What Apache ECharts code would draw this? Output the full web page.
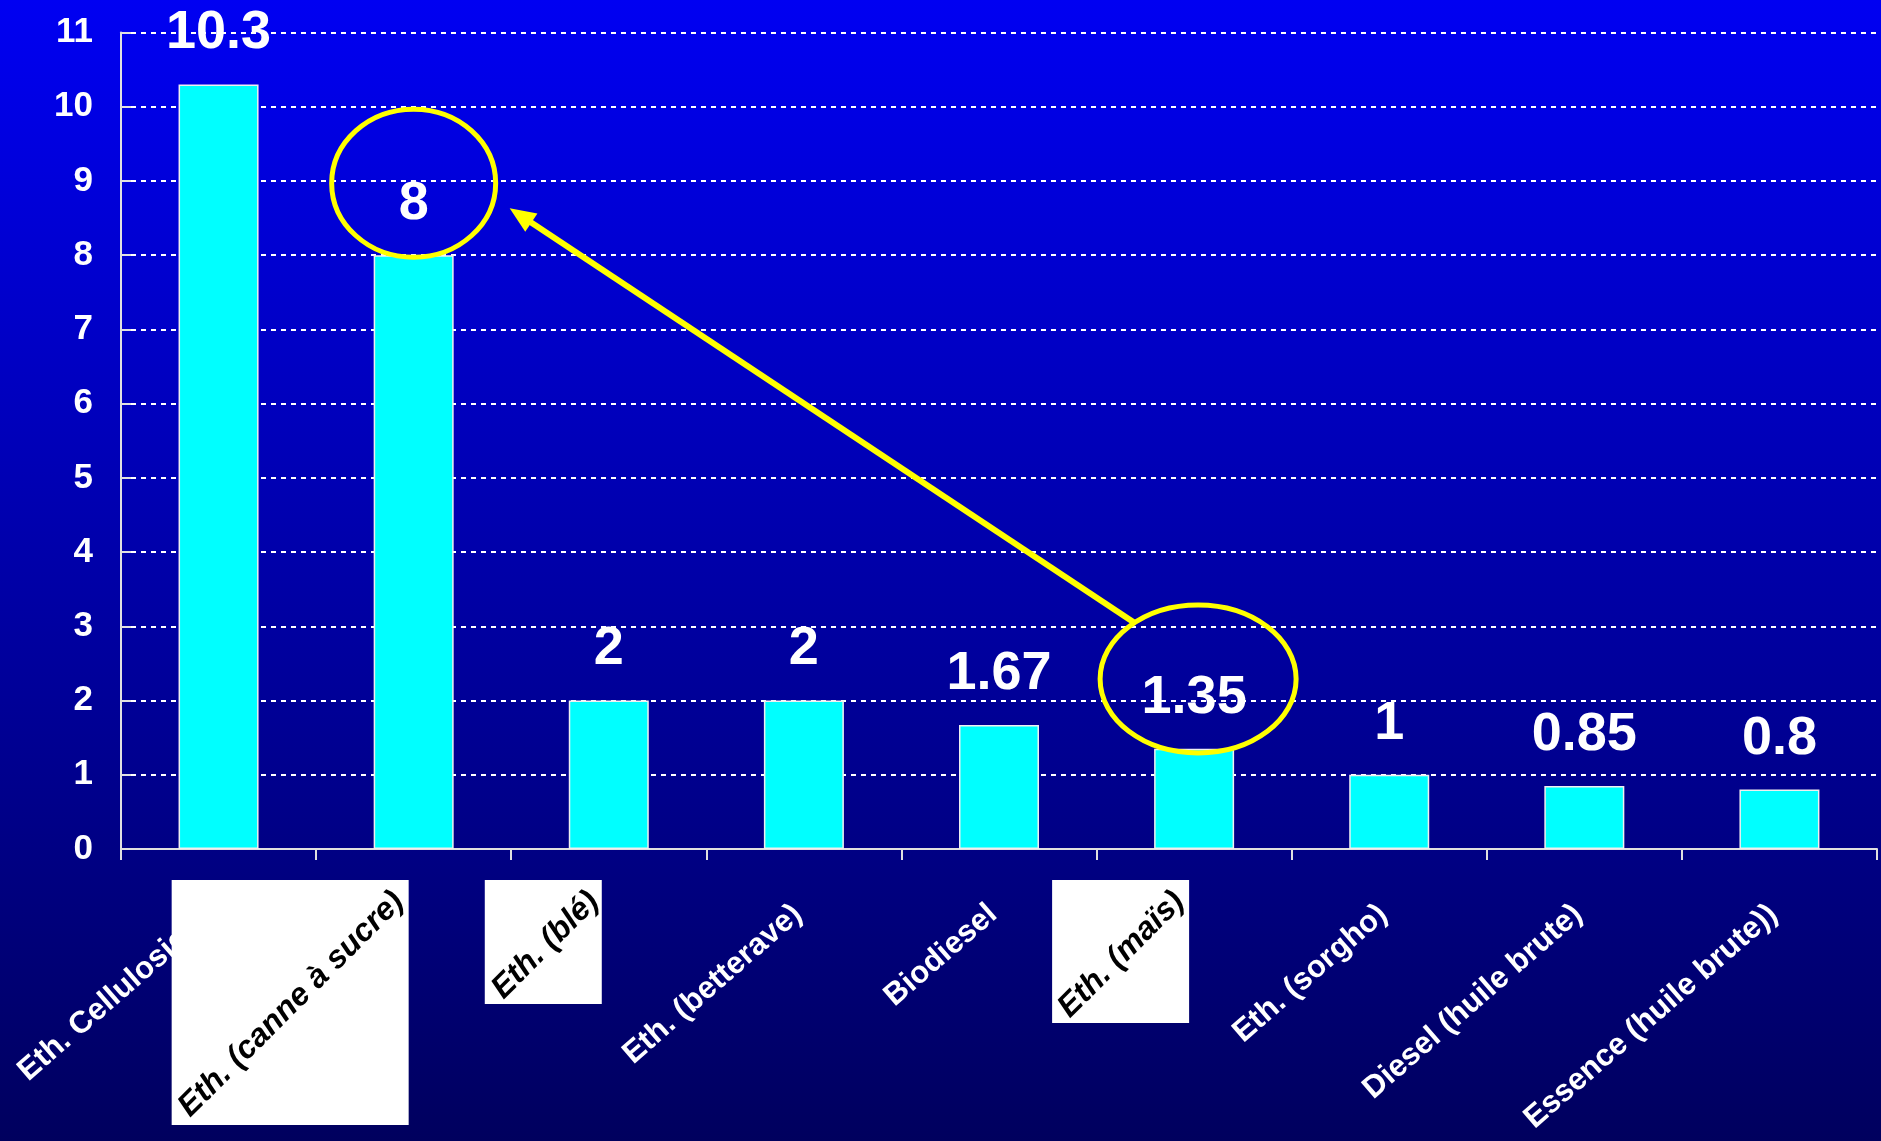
<!DOCTYPE html>
<html>
<head>
<meta charset="utf-8">
<script src="https://cdn.jsdelivr.net/npm/echarts@6/dist/echarts.min.js"></script>
<style>
html,body{margin:0;padding:0;overflow:hidden;}
#chart{width:1881px;height:1141px;}
</style>
</head>
<body>
<div id="chart"></div>
<script>
// ---- data ----
const categories = ['Eth. Cellulosique', 'Eth. (canne à sucre)', 'Eth. (blé)', 'Eth. (betterave)', 'Biodiesel', 'Eth. (maïs)', 'Eth. (sorgho)', 'Diesel (huile brute)', 'Essence (huile brute))'];
const values = [10.3, 8, 2, 2, 1.67, 1.35, 1, 0.85, 0.8];
const boxedCategories = ['Eth. (canne à sucre)', 'Eth. (blé)', 'Eth. (maïs)'];
const yMin = 0, yMax = 11, yStep = 1;

// ---- styles ----
const NARROW = '"Liberation Sans Narrow", "Liberation Sans", Arial, sans-serif';
const SANS = '"Liberation Sans", Arial, sans-serif';

const chart = echarts.init(document.getElementById('chart'), null, {renderer: 'canvas'});

const option = {
  backgroundColor: {
    type: 'linear', x: 0, y: 0, x2: 0, y2: 1,
    colorStops: [{offset: 0, color: '#0000F2'}, {offset: 1, color: '#00005E'}]
  },
  animation: false,
  grid: {left: 121, right: 4, top: 32.5, bottom: 292, containLabel: false},
  xAxis: [{
    type: 'category',
    data: categories,
    z: 0,
    axisLine: {show: true, lineStyle: {color: '#E0E0E0', width: 2}},
    axisTick: {show: true, length: 11, lineStyle: {color: '#E0E0E0', width: 2}},
    axisLabel: {
      interval: 0, rotate: 41, margin: 56,
      color: '#FFFFFF', fontFamily: SANS, fontWeight: 'bold', fontSize: 31,
      padding: [0, 8, 0, 0],
      formatter: v => boxedCategories.includes(v) ? '' : v
    }
  }, {
    type: 'category',
    data: categories,
    z: 5,
    position: 'bottom',
    axisLine: {show: false},
    axisTick: {show: false},
    splitLine: {show: false},
    axisLabel: {
      interval: 0, rotate: 45, margin: 33,
      color: '#000000', fontFamily: SANS, fontWeight: 'bold', fontStyle: 'italic', fontSize: 32,
      padding: [0, 21, 0, 0],
      formatter: v => boxedCategories.includes(v) ? v : ''
    }
  }],
  yAxis: {
    type: 'value', min: yMin, max: yMax, interval: yStep,
    axisLine: {show: true, lineStyle: {color: '#E0E0E0', width: 2}},
    axisTick: {show: true, inside: true, length: 10, lineStyle: {color: '#E0E0E0', width: 2}},
    axisLabel: {color: '#FFFFFF', fontFamily: NARROW, fontWeight: 'bold', fontSize: 35, margin: 28},
    splitLine: {show: true, lineStyle: {color: '#FFFFFF', width: 2, type: [5, 5]}}
  },
  series: [{
    type: 'bar',
    xAxisIndex: 0,
    data: values,
    barWidth: 80,
    itemStyle: {color: '#00FFFF', borderColor: '#F0F0F0', borderWidth: 1.5},
    label: {
      show: true, position: 'top', distance: 24,
      color: '#FFFFFF', fontFamily: NARROW, fontWeight: 'bold', fontSize: 54
    }
  }]
};
chart.setOption(option);

// ---- annotations (yellow circles, arrow, white boxes behind pasted labels) ----
function catIndex(name) { return categories.indexOf(name); }
const px = (c, v) => chart.convertToPixel({xAxisIndex: 0, yAxisIndex: 0}, [c, v]);
const axisY = px(0, 0)[1];

const boxes = [
  {cat: 'Eth. (canne à sucre)', dl: -242, dr: -5, dt: 31, db: 276},
  {cat: 'Eth. (blé)', dl: -124, dr: -7, dt: 31, db: 155},
  {cat: 'Eth. (maïs)', dl: -142, dr: -5, dt: 31, db: 174}
];
const graphics = [];
boxes.forEach(b => {
  const cx = px(catIndex(b.cat), 0)[0];
  graphics.push({
    type: 'rect', z: 2, silent: true,
    shape: {x: cx + b.dl, y: axisY + b.dt, width: b.dr - b.dl, height: b.db - b.dt},
    style: {fill: '#FFFFFF'}
  });
});

const cA = px(1, 8.97);
const cB = px(5, 2.29);
const eA = {rx: 82, ry: 74}, eB = {rx: 98, ry: 74};
graphics.push({type: 'ellipse', z: 20, silent: true, shape: {cx: cA[0], cy: cA[1], rx: eA.rx, ry: eA.ry}, style: {fill: 'none', stroke: '#FFFF00', lineWidth: 5}});
graphics.push({type: 'ellipse', z: 20, silent: true, shape: {cx: cB[0] + 4, cy: cB[1], rx: eB.rx, ry: eB.ry}, style: {fill: 'none', stroke: '#FFFF00', lineWidth: 5}});

const start = [cB[0] + 4 - 0.65 * eB.rx, cB[1] - 0.76 * eB.ry];
const tip = [cA[0] + 96, cA[1] + 25];
const dx = tip[0] - start[0], dy = tip[1] - start[1];
const len = Math.sqrt(dx * dx + dy * dy);
const ux = dx / len, uy = dy / len;
const headL = 26, headW = 11;
const base = [tip[0] - ux * headL, tip[1] - uy * headL];
graphics.push({type: 'line', z: 20, silent: true, shape: {x1: start[0], y1: start[1], x2: base[0] + ux * 2, y2: base[1] + uy * 2}, style: {stroke: '#FFFF00', lineWidth: 6}});
graphics.push({type: 'polygon', z: 20, silent: true, shape: {points: [tip, [base[0] - uy * headW, base[1] + ux * headW], [base[0] + uy * headW, base[1] - ux * headW]]}, style: {fill: '#FFFF00'}});

chart.setOption({graphic: graphics});
</script>
</body>
</html>
